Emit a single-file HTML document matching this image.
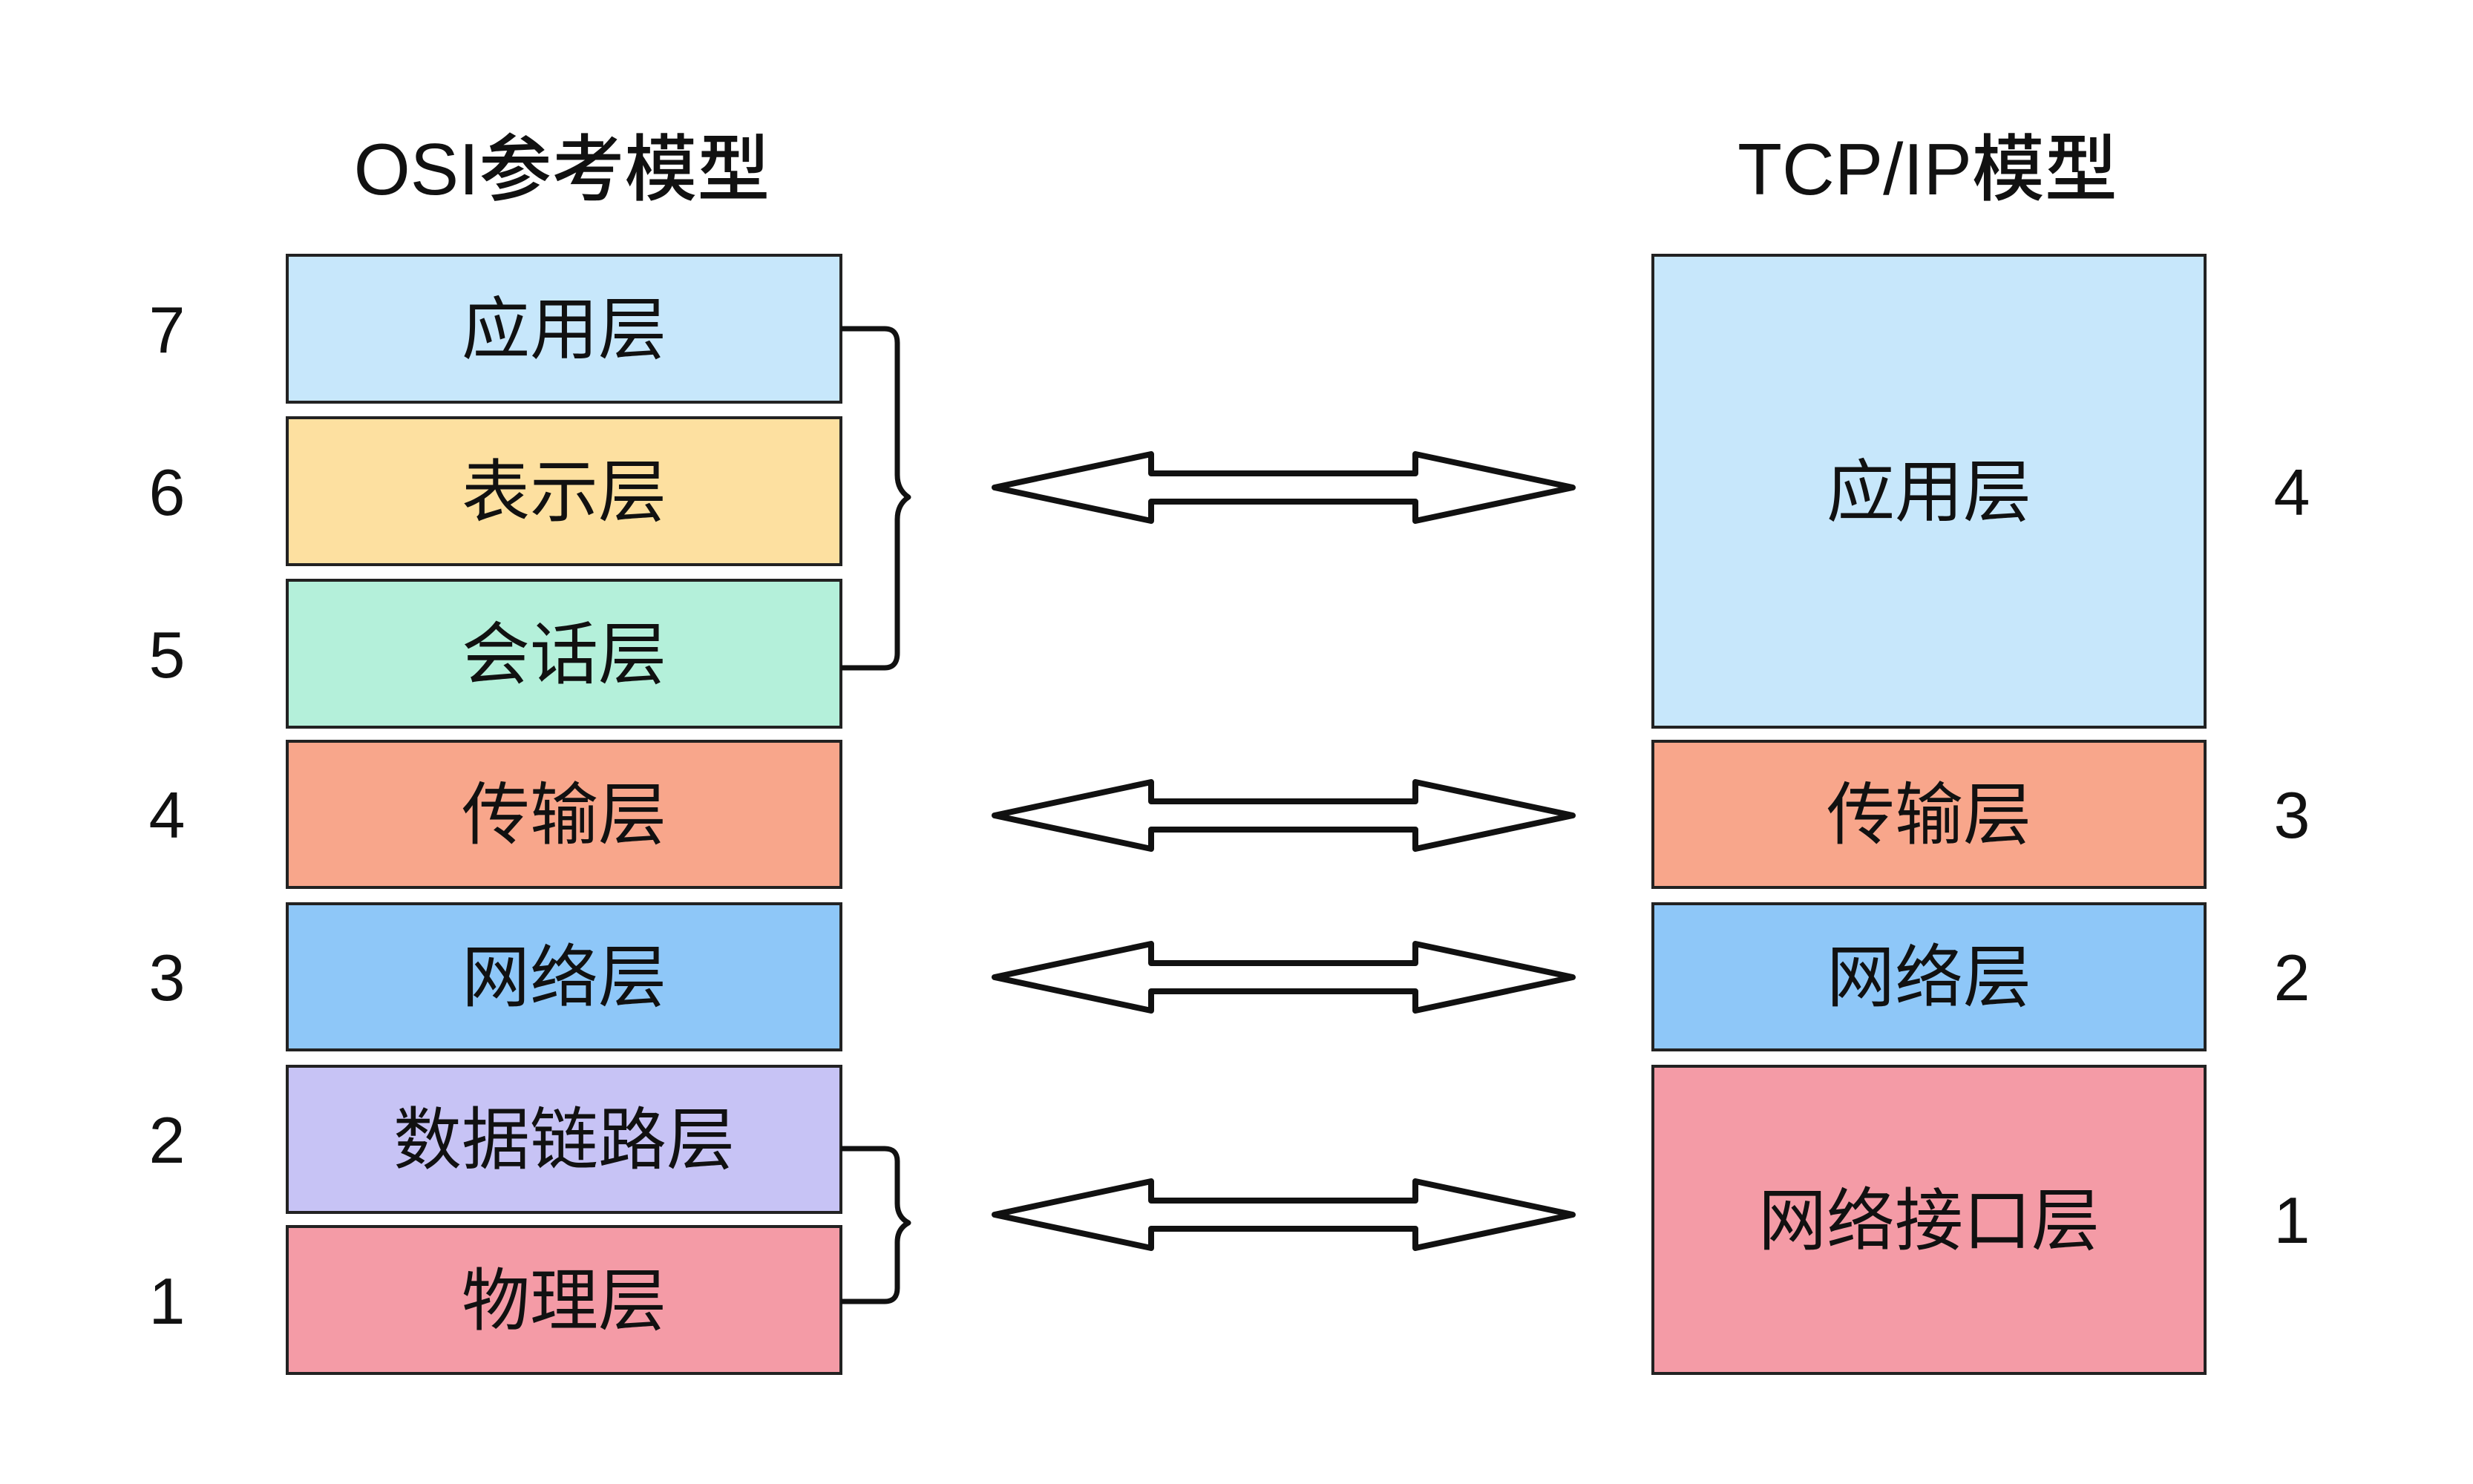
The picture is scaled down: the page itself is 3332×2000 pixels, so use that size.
<!DOCTYPE html>
<html><head><meta charset="utf-8"><style>
html,body{margin:0;padding:0;background:#fff;}
svg{display:block;}
text{font-family:"Liberation Sans","Noto Sans CJK SC",sans-serif;fill:#111;}
</style></head><body>
<svg width="3332" height="2000" viewBox="0 0 3332 2000" xmlns="http://www.w3.org/2000/svg">
<g font-size="98" text-anchor="middle" font-weight="500">
<text x="757" y="262">OSI参考模型</text>
<text x="2597" y="262">TCP/IP模型</text>
</g>
<g stroke="#222" stroke-width="4">
<rect x="387" y="344" width="746" height="198" fill="#c7e7fb"/>
<rect x="387" y="563" width="746" height="198" fill="#fde0a0"/>
<rect x="387" y="782" width="746" height="198" fill="#b4f0da"/>
<rect x="387" y="999" width="746" height="197" fill="#f8a68b"/>
<rect x="387" y="1218" width="746" height="197" fill="#8ec7f8"/>
<rect x="387" y="1437" width="746" height="197" fill="#c7c3f5"/>
<rect x="387" y="1653" width="746" height="198" fill="#f49ba6"/>
<rect x="2227" y="344" width="744" height="636" fill="#c7e7fb"/>
<rect x="2227" y="999" width="744" height="197" fill="#f8a68b"/>
<rect x="2227" y="1218" width="744" height="197" fill="#8ec7f8"/>
<rect x="2227" y="1437" width="744" height="414" fill="#f49ba6"/>
</g>
<g font-size="92" text-anchor="middle">
<text x="760" y="476">应用层</text>
<text x="760" y="695">表示层</text>
<text x="760" y="914">会话层</text>
<text x="760" y="1130">传输层</text>
<text x="760" y="1349">网络层</text>
<text x="760" y="1568">数据链路层</text>
<text x="760" y="1785">物理层</text>
<text x="2599" y="695">应用层</text>
<text x="2599" y="1130">传输层</text>
<text x="2599" y="1349">网络层</text>
<text x="2599" y="1677">网络接口层</text>
</g>
<g font-size="88" text-anchor="middle">
<text x="225" y="475">7</text>
<text x="225" y="694">6</text>
<text x="225" y="913">5</text>
<text x="225" y="1129">4</text>
<text x="225" y="1348">3</text>
<text x="225" y="1567">2</text>
<text x="225" y="1784">1</text>
<text x="3088" y="694">4</text>
<text x="3088" y="1129">3</text>
<text x="3088" y="1348">2</text>
<text x="3088" y="1675">1</text>
</g>
<g fill="none" stroke="#111" stroke-width="7" stroke-linejoin="round">
<path d="M1133 443 H1192 Q1209 443 1209 462 V640 Q1209 660 1224 670 Q1209 680 1209 700 V880 Q1209 900 1192 900 H1133"/>
<path d="M1133 1548 H1192 Q1209 1548 1209 1565 V1622 Q1209 1640 1224 1648 Q1209 1656 1209 1674 V1736 Q1209 1754 1192 1754 H1133"/>
</g>
<defs>
<path id="arr" d="M1340 0 L1551 -45 V-19 H1907 V-45 L2119 0 L1907 45 V19 H1551 V45 Z"/>
</defs>
<g fill="#fff" stroke="#111" stroke-width="8" stroke-linejoin="round">
<use href="#arr" transform="translate(0,657)"/>
<use href="#arr" transform="translate(0,1099)"/>
<use href="#arr" transform="translate(0,1317)"/>
<use href="#arr" transform="translate(0,1637)"/>
</g>
</svg>
</body></html>
